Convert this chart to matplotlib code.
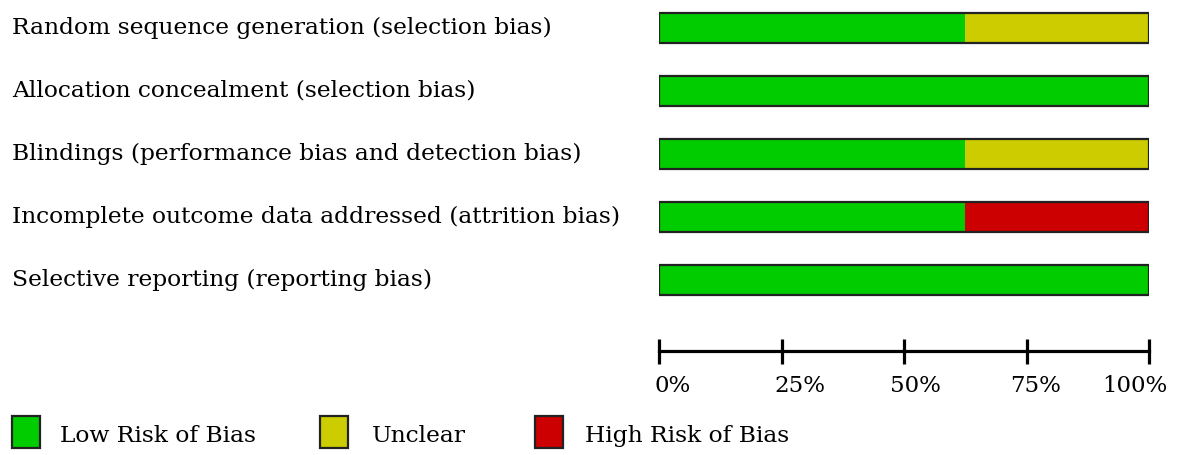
import matplotlib.pyplot as plt
from matplotlib.patches import Rectangle
from matplotlib.transforms import blended_transform_factory, ScaledTranslation

domains = ["Random sequence generation (selection bias)",
           "Allocation concealment (selection bias)",
           "Blindings (performance bias and detection bias)",
           "Incomplete outcome data addressed (attrition bias)",
           "Selective reporting (reporting bias)"]
low = [62.5, 100, 62.5, 62.5, 100]
unclear = [37.5, 0, 37.5, 0, 0]
high = [0, 0, 0, 37.5, 0]
ticks = [0, 25, 50, 75, 100]
tick_labels = ["0%", "25%", "50%", "75%", "100%"]
legend_labels = ["Low Risk of Bias", "Unclear", "High Risk of Bias"]

c_low, c_unc, c_high = "#00CC00", "#CCCC00", "#CC0000"
font = "DejaVu Serif"

fig = plt.figure(figsize=(11.81, 4.55), dpi=100)
W, H = 1181, 455
ax = fig.add_axes([659 / W, 1 - 351 / H, 490 / W, 351 / H])

y = [4, 3, 2, 1, 0]
h = 0.49
left3 = [a + b for a, b in zip(low, unclear)]
ax.barh(y, low, height=h, color=c_low, linewidth=0)
ax.barh(y, unclear, left=low, height=h, color=c_unc, linewidth=0)
ax.barh(y, high, left=left3, height=h, color=c_high, linewidth=0)
ax.barh(y, [100] * 5, height=h, fill=False, edgecolor="#222222", linewidth=1.6)

ax.set_xlim(0, 100)
ax.set_ylim(-71 / 63, 280 / 63)
for s in ["top", "right", "left"]:
    ax.spines[s].set_visible(False)
ax.spines["bottom"].set_linewidth(2.3)
ax.set_yticks([])
ax.set_xticks(ticks)
ax.set_xticklabels(tick_labels, fontfamily=font, fontsize=16.5)
ax.tick_params(axis="x", direction="inout", length=18, width=2.3, pad=8)
# labels sit a bit off-centre in the original
shifts = [14, 18, 11, 9, -14]
for lab, dx in zip(ax.get_xticklabels(), shifts):
    lab.set_transform(lab.get_transform() + ScaledTranslation(dx / 100, 0, fig.dpi_scale_trans))

trans = blended_transform_factory(fig.transFigure, ax.transData)
for yy, name in zip(y, domains):
    ax.text(12 / W, yy, name, transform=trans, ha="left", va="center",
            fontfamily=font, fontsize=16.8)

box_x = [12, 320, 535]
text_x = [60, 372, 585]
for bx, tx, col, lab in zip(box_x, text_x, [c_low, c_unc, c_high], legend_labels):
    fig.patches.append(Rectangle((bx / W, 1 - 448 / H), 28 / W, 32 / H,
                                 transform=fig.transFigure, facecolor=col,
                                 edgecolor="#222222", linewidth=1.6))
    fig.text(tx / W, 1 - 436 / H, lab, ha="left", va="center",
             fontfamily=font, fontsize=16.8)

fig.savefig("out.png", dpi=100)
